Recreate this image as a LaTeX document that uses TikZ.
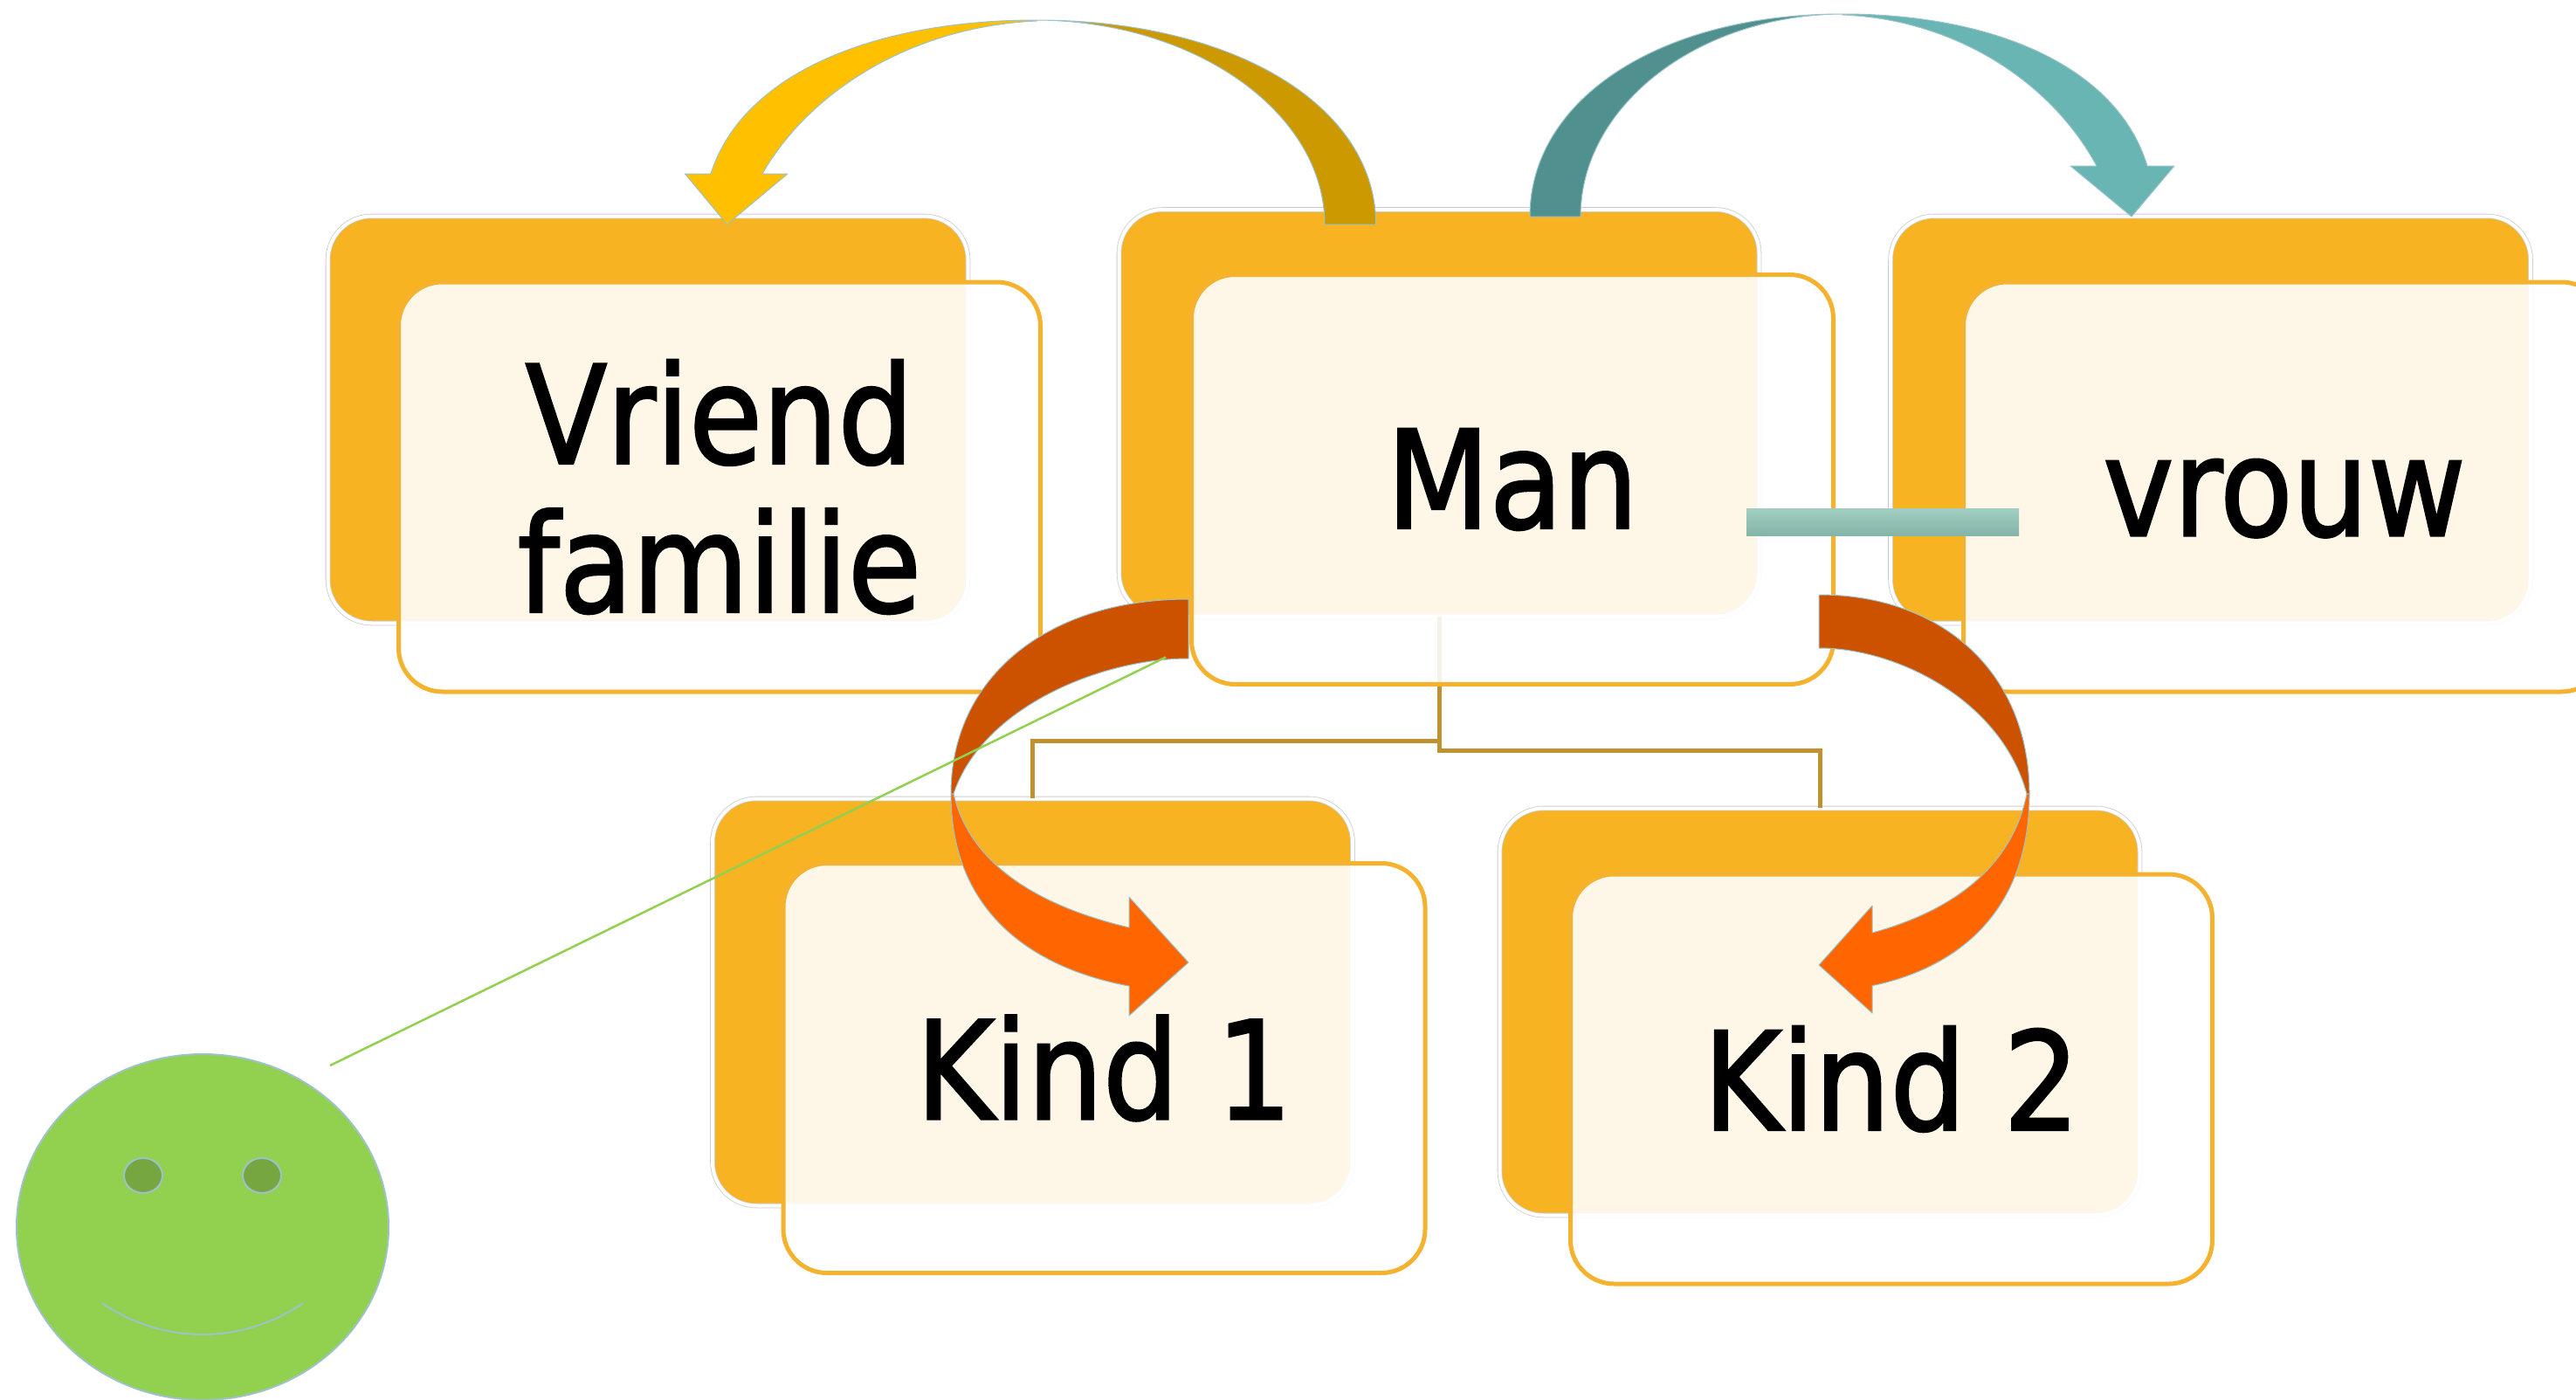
\documentclass[tikz,border=0pt]{standalone}
\usepackage{fontspec}
\usepackage{xcolor}
\usepackage{tikz}
\usetikzlibrary{shapes.geometric}
\setmainfont{DejaVu Sans Condensed}[FakeBold=1.6,FakeStretch=0.97]

\definecolor{vlak}{HTML}{F7B322}
\definecolor{rand}{HTML}{F4B22E}
\definecolor{tak}{HTML}{BF9130}
\definecolor{goudd}{HTML}{CC9900}
\definecolor{goudl}{HTML}{FFC000}
\definecolor{blauwd}{HTML}{50918F}
\definecolor{blauwl}{HTML}{68B5B3}
\definecolor{balkb}{HTML}{A1CEC0}
\definecolor{balko}{HTML}{84B5A9}
\definecolor{oranjed}{HTML}{CC5200}
\definecolor{oranjel}{HTML}{FF6600}
\definecolor{groen}{HTML}{92D050}
\definecolor{oog}{HTML}{75A640}
\definecolor{lijntje}{HTML}{9DC3C8}

\tikzset{
	achter/.style={draw=black!20, double=white, double distance=0.04cm, line width=0.008cm, fill=vlak,
		rounded corners=0.5cm, minimum width=7.33cm, minimum height=4.66cm, inner sep=0pt},
	voor/.style={draw=rand, line width=0.05cm, fill=white, fill opacity=0.89, text opacity=1,
		rounded corners=0.5cm, minimum width=7.35cm, minimum height=4.69cm, inner sep=0pt,
		align=center, font=\fontsize{44.5}{48.4}\selectfont},
	takje/.style={tak, line width=0.05cm},
	boog/.style={draw=lijntje, line width=0.01cm, line join=round},
	gezichtje/.style={ellipse, draw=lijntje, line width=0.02cm, inner sep=0pt}
}

\begin{document}
\begin{tikzpicture}[y=-1cm]
	\useasboundingbox (0,0) rectangle (29.50,16.02);
	\clip (0,0) rectangle (29.50,16.02);

	% oranje vlakken
	\foreach \naam/\x/\y in {vriendvlak/7.42/4.805,manvlak/16.48/4.73,vrouwvlak/25.315/4.805,
		kindeenvlak/11.825/11.475,kindtweevlak/20.84/11.585}
	\node[achter] (\naam) at (\x,\y) {};

	% takken naar de kinderen
	\draw[takje] (manvlak.south) -- ++(0,1.42) -| (kindeenvlak.north);
	\draw[takje] (manvlak.south) -- ++(0,1.53) -| (kindtweevlak.north);

	% witte vlakken met tekst
	\foreach \naam/\x/\y/\tekst in {vriend/8.24/5.575/{Vriend\\familie},man/17.32/5.49/Man,vrouw/26.16/5.575/{vrouw\vphantom{M}},
		kindeen/12.645/12.23/Kind 1,kindtwee/21.66/12.355/Kind 2}
	\node[voor] (\naam) at (\x,\y) {\tekst};

	% balk tussen man en vrouw
	\node[minimum width=3.12cm, minimum height=0.31cm, inner sep=0pt, top color=balkb, bottom color=balko] (balk) at (21.56,5.975) {};

	% boog links boven
	\fill[goudd, boog] (15.756,2.57) .. controls (15.756,1.22) and (14.15,0.23) .. (11.87,0.23)
		.. controls (13.70,0.24) and (15.17,1.30) .. (15.17,2.57) -- cycle;
	\fill[goudl, boog] (11.87,0.23) .. controls (10.00,0.23) and (8.50,0.85) .. (8.14,1.99)
		-- (7.845,1.99) -- (8.326,2.57) -- (9.02,1.99) -- (8.73,1.99)
		.. controls (9.30,1.00) and (10.50,0.30) .. (11.87,0.24) -- cycle;

	% boog rechts boven
	\fill[blauwd, boog] (17.52,2.48) .. controls (17.52,1.14) and (19.00,0.16) .. (21.10,0.16)
		.. controls (19.435,0.17) and (18.10,1.22) .. (18.10,2.48) -- cycle;
	\fill[blauwl, boog] (21.10,0.16) .. controls (22.845,0.16) and (24.25,0.77) .. (24.59,1.90)
		-- (24.90,1.90) -- (24.41,2.48) -- (23.71,1.90) -- (24.01,1.90)
		.. controls (23.48,0.92) and (22.37,0.22) .. (21.10,0.17) -- cycle;

	% boog links onder
	\fill[oranjed, boog] (13.61,6.86) .. controls (12.00,6.86) and (10.89,7.75) .. (10.89,9.09)
		-- (10.92,9.09) .. controls (11.25,8.10) and (12.60,7.54) .. (13.61,7.54) -- cycle;
	\fill[oranjel, boog] (10.89,9.09) .. controls (10.89,10.50) and (11.90,11.10) .. (12.93,11.29)
		-- (12.93,11.63) -- (13.61,11.02) -- (12.93,10.27) -- (12.93,10.62)
		.. controls (11.80,10.35) and (11.10,9.85) .. (10.92,9.09) -- cycle;

	% boog rechts onder
	\fill[oranjed, boog] (20.83,6.81) .. controls (22.26,6.81) and (23.24,7.72) .. (23.24,9.09)
		-- (23.21,9.09) .. controls (22.92,8.02) and (21.725,7.42) .. (20.83,7.42) -- cycle;
	\fill[oranjel, boog] (23.24,9.09) .. controls (23.24,10.50) and (22.345,11.10) .. (21.44,11.286)
		-- (21.44,11.60) -- (20.83,11.05) -- (21.44,10.37) -- (21.44,10.68)
		.. controls (22.43,10.41) and (23.05,9.88) .. (23.21,9.09) -- cycle;

	% gezicht
	\node[gezichtje, fill=groen, minimum width=4.26cm, minimum height=3.96cm] (gezicht) at (2.32,14.05) {};
	\node[gezichtje, fill=oog, minimum width=0.44cm, minimum height=0.40cm] (oogl) at (1.64,13.46) {};
	\node[gezichtje, fill=oog, minimum width=0.44cm, minimum height=0.40cm] (oogr) at (3.00,13.46) {};
	\coordinate (mondl) at (1.17,14.92);
	\coordinate (mondr) at (3.47,14.92);
	\draw[lijntje, line width=0.02cm] (mondl) .. controls (1.87,15.40) and (2.77,15.40) .. (mondr);

	% groene lijn
	\coordinate (lijnbegin) at (3.78,12.20);
	\coordinate (lijneind) at (13.35,7.525);
	\draw[groen, line width=0.025cm] (lijnbegin) -- (lijneind);
\end{tikzpicture}
\end{document}
